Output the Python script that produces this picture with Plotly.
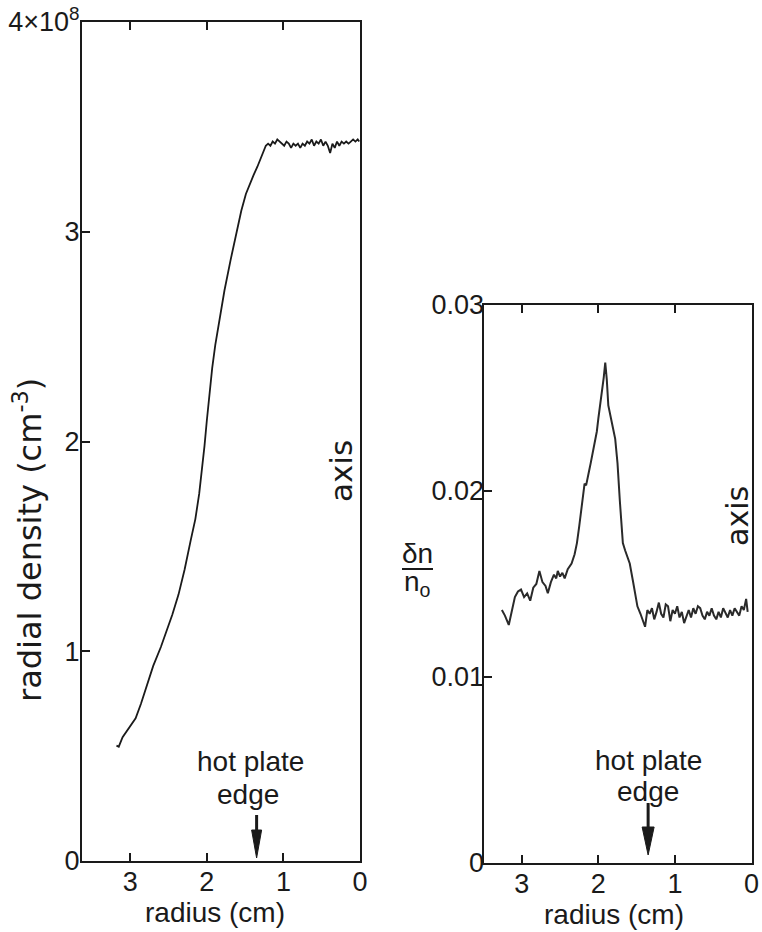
import plotly.graph_objects as go

# ---------------- data ----------------
# Left panel: radial density (units of 1e8 cm^-3) vs radius (cm)
density_radius = [3.18, 3.15, 3.10, 3.02, 2.93, 2.86, 2.79, 2.70, 2.60, 2.52, 2.45, 2.37,
                  2.29, 2.21, 2.15, 2.10, 2.06, 2.03, 2.00, 1.97, 1.93, 1.89, 1.85, 1.77,
                  1.69, 1.62, 1.55, 1.49, 1.44, 1.39, 1.34, 1.28, 1.23,
                  1.20, 1.17, 1.14, 1.11, 1.08, 1.05, 1.02, 0.99, 0.96, 0.93, 0.90, 0.87,
                  0.84, 0.81, 0.78, 0.75, 0.72, 0.69, 0.66, 0.63, 0.60, 0.57, 0.54, 0.51,
                  0.48, 0.45, 0.42, 0.39, 0.36, 0.33, 0.30, 0.27, 0.24, 0.21, 0.18, 0.15,
                  0.12, 0.09, 0.06, 0.03, 0.01]
density_value = [0.55, 0.545, 0.59, 0.63, 0.68, 0.75, 0.83, 0.93, 1.02, 1.10, 1.175, 1.27,
                 1.39, 1.53, 1.63, 1.75, 1.87, 1.98, 2.10, 2.22, 2.35, 2.46, 2.55, 2.72,
                 2.865, 2.99, 3.10, 3.18, 3.23, 3.27, 3.31, 3.36, 3.41,
                 3.42, 3.41, 3.43, 3.42, 3.44, 3.43, 3.42, 3.41, 3.43, 3.42, 3.40, 3.42,
                 3.41, 3.42, 3.40, 3.42, 3.41, 3.43, 3.42, 3.44, 3.41, 3.43, 3.42, 3.44,
                 3.41, 3.43, 3.41, 3.375, 3.42, 3.40, 3.43, 3.41, 3.43, 3.42, 3.43, 3.42,
                 3.43, 3.44, 3.43, 3.44, 3.43]

# Right panel: relative fluctuation dn/n0 vs radius (cm)
fluct_radius = [3.26, 3.22, 3.17, 3.13, 3.09, 3.05, 3.01, 2.97, 2.93, 2.89, 2.85, 2.81,
                2.77, 2.73, 2.69, 2.66, 2.62, 2.58, 2.55, 2.53, 2.50, 2.47, 2.44, 2.40,
                2.35, 2.31, 2.28, 2.25, 2.22, 2.20, 2.18, 2.16, 2.14, 2.12, 2.10, 2.08,
                2.06, 2.04, 2.02, 2.00, 1.98, 1.95, 1.93, 1.91, 1.89, 1.87, 1.84, 1.81,
                1.78, 1.75, 1.72, 1.70, 1.68, 1.65, 1.62, 1.59, 1.55, 1.52, 1.49, 1.45,
                1.42, 1.39, 1.36, 1.33, 1.30, 1.27, 1.24, 1.21, 1.18, 1.15, 1.12, 1.09,
                1.06, 1.03, 1.00, 0.97, 0.94, 0.91, 0.88, 0.85, 0.82, 0.79, 0.76, 0.73,
                0.70, 0.67, 0.64, 0.61, 0.58, 0.55, 0.52, 0.49, 0.46, 0.43, 0.40, 0.37,
                0.34, 0.31, 0.28, 0.25, 0.22, 0.19, 0.16, 0.13, 0.10, 0.07, 0.05]
fluct_value = [0.0136, 0.0133, 0.0128, 0.0135, 0.0143, 0.0146, 0.0147, 0.0143, 0.0145, 0.0141,
               0.0148, 0.0150, 0.0157, 0.0151, 0.0149, 0.0145, 0.0151, 0.0155, 0.0153, 0.0157,
               0.0154, 0.0156, 0.0153, 0.0158, 0.0161, 0.0166, 0.0172, 0.0181, 0.0192, 0.0200,
               0.0204, 0.0203, 0.0208, 0.0211, 0.0215, 0.0219, 0.0222, 0.0227, 0.0232, 0.0239,
               0.0245, 0.0254, 0.0261, 0.0269, 0.0260, 0.0246, 0.0239, 0.0234, 0.0228, 0.0215,
               0.0195, 0.0182, 0.0172, 0.0168, 0.0164, 0.0161, 0.0152, 0.0145, 0.0138, 0.0134,
               0.0130, 0.0127, 0.0136, 0.0134, 0.0137, 0.0131, 0.0135, 0.0140, 0.0134, 0.0132,
               0.0139, 0.0138, 0.0130, 0.0136, 0.0134, 0.0138, 0.0132, 0.0135, 0.0129, 0.0133,
               0.0136, 0.0132, 0.0137, 0.0134, 0.0138, 0.0137, 0.0133, 0.0131, 0.0135, 0.0133,
               0.0137, 0.0133, 0.0131, 0.0135, 0.0132, 0.0137, 0.0134, 0.0132, 0.0136, 0.0133,
               0.0137, 0.0135, 0.0133, 0.0138, 0.0136, 0.0142, 0.0135]

radius_ticks = [3, 2, 1, 0]
radius_ticktext = ["3", "2", "1", "0"]
density_ticks = [0, 1, 2, 3, 4]
density_ticktext = ["0", "1", "2", "3", "4×10<sup>8</sup>"]
fluct_ticks = [0, 0.01, 0.02, 0.03]
fluct_ticktext = ["0", "0.01", "0.02", "0.03"]
hot_plate_edge_cm = 1.35

# ---------------- figure ----------------
W, H = 762, 932
FONT = "Liberation Sans"
WIDE = "DejaVu Sans"
INK = "#1a1a1a"


def px_x(p):
    return p / W


def px_y(p):
    return 1 - p / H


fig = go.Figure()
fig.add_trace(go.Scatter(x=density_radius, y=density_value, mode="lines",
                         line=dict(color=INK, width=1.8), xaxis="x", yaxis="y",
                         showlegend=False, hoverinfo="skip"))
fig.add_trace(go.Scatter(x=fluct_radius, y=fluct_value, mode="lines",
                         line=dict(color="#2a2a2a", width=2.0), xaxis="x2", yaxis="y2",
                         showlegend=False, hoverinfo="skip"))

axis_common = dict(showgrid=False, zeroline=False, showline=True, linecolor=INK,
                   linewidth=2, ticks="inside", ticklen=8, tickwidth=2, tickcolor=INK,
                   tickfont=dict(family=FONT, size=27, color=INK), automargin=False)

fig.update_layout(
    width=W, height=H, template="none",
    paper_bgcolor="white", plot_bgcolor="white",
    margin=dict(l=0, r=0, t=0, b=0),
    xaxis=dict(domain=[px_x(82), px_x(360)], range=[3.63, 0], tickvals=radius_ticks,
               ticktext=radius_ticktext, mirror="ticks", anchor="y",
               ticklabelstandoff=-4, **axis_common),
    yaxis=dict(domain=[px_y(861), px_y(22)], range=[0, 4], tickvals=density_ticks,
               ticktext=density_ticktext, mirror=True, anchor="x",
               ticklabelstandoff=-5, **axis_common),
    xaxis2=dict(domain=[px_x(483.5), px_x(751.5)], range=[3.5, 0], tickvals=radius_ticks,
                ticktext=radius_ticktext, mirror="ticks", anchor="y2",
                ticklabelstandoff=-4, **axis_common),
    yaxis2=dict(domain=[px_y(863), px_y(305)], range=[0, 0.03], tickvals=fluct_ticks,
                ticktext=fluct_ticktext, mirror=True, anchor="x2",
                ticklabelstandoff=-8, **axis_common),
)

annotations = []


def text(x, y, s, size, angle=0, family=FONT):
    annotations.append(dict(x=px_x(x), y=px_y(y), xref="paper", yref="paper", text=s,
                            showarrow=False, textangle=angle, xanchor="center",
                            yanchor="middle", font=dict(family=family, size=size, color=INK)))


text(215, 912, "radius (cm)", 28)
text(614, 914, "radius (cm)", 28)
text(28, 540, "radial density (cm<sup>-3</sup>)", 32, -90, WIDE)
text(341, 471, "axis", 31, -90, WIDE)
text(737, 516, "axis", 30, -90, WIDE)
text(250, 761, "hot plate", 28)
text(248, 794, "edge", 28)
text(648, 760, "hot plate", 28)
text(648, 791, "edge", 28)
text(417, 553, "δn", 28)
text(418, 583, "n<sub>o</sub>", 28)
fig.update_layout(annotations=annotations)

shapes = [
    # fraction bar
    dict(type="line", xref="paper", yref="paper", x0=px_x(402), x1=px_x(433),
         y0=px_y(569), y1=px_y(569), line=dict(color=INK, width=2)),
]
# hot plate edge arrows (pixel-sized, anchored at the data position)
for xr, yr, tip, base, tail, half in [("x", "y", 3, 31, 46, 5), ("x2", "y2", 8, 36, 60, 6)]:
    shapes.append(dict(type="line", xref=xr, yref=yr, xsizemode="pixel", ysizemode="pixel",
                       xanchor=hot_plate_edge_cm, yanchor=0, x0=0, x1=0, y0=base, y1=tail,
                       line=dict(color=INK, width=3)))
    shapes.append(dict(type="path", xref=xr, yref=yr, xsizemode="pixel", ysizemode="pixel",
                       xanchor=hot_plate_edge_cm, yanchor=0,
                       path=f"M{-half},{base} L{half},{base} L0,{tip} Z",
                       fillcolor=INK, line=dict(color=INK, width=1)))
fig.update_layout(shapes=shapes)

fig.write_html("out.html")
